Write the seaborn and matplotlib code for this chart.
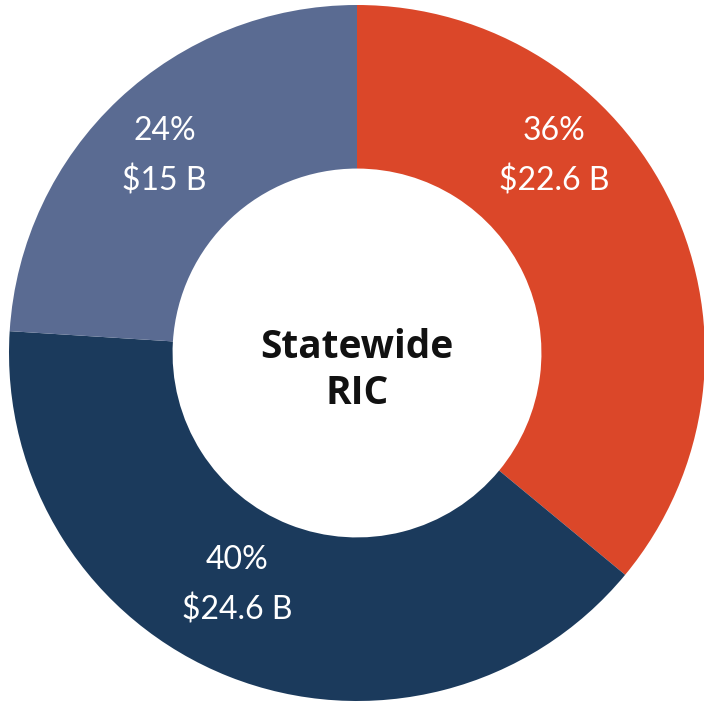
import matplotlib
matplotlib.use("Agg")
import numpy as np
import matplotlib.pyplot as plt
import seaborn as sns

# Statewide RIC split
shares = [36, 40, 24]
amounts = ["$22.6 B", "$24.6 B", "$15 B"]
colors = ["#DB4729", "#1B3A5C", "#5A6B92"]
center_label = "Statewide\nRIC"

# where each label sits (angle in degrees, radius as fraction of outer radius)
label_angles = [45, 242.7, 134.4]
label_radii = [0.80, 0.75, 0.79]

sns.set_theme(style="white")
plt.rcParams['font.family'] = ['Lato', 'DejaVu Sans']

fig = plt.figure(figsize=(7.04, 7.02), dpi=100)
ax = fig.add_axes([0, 0, 1, 1])

ax.pie(shares, colors=colors, startangle=90, counterclock=False,
       wedgeprops=dict(width=0.47, edgecolor="none"))

for share, amount, ang, r in zip(shares, amounts, label_angles, label_radii):
    a = np.deg2rad(ang)
    ax.text(r * np.cos(a), r * np.sin(a), f"{share}%\n{amount}",
            ha="center", va="center", color="white", fontsize=23,
            linespacing=1.78)

ax.text(0, -0.05, center_label, ha="center", va="center", fontsize=28,
        fontweight="bold", color="#111111", family=["Open Sans", "DejaVu Sans"],
        linespacing=1.25)

# outer radius 348 px, centre at (357, 353)
r_px = 348
ax.set_aspect("auto")
ax.set_xlim(-357 / r_px, (704 - 357) / r_px)
ax.set_ylim(-(702 - 353) / r_px, 353 / r_px)
ax.axis("off")

fig.savefig("out.png", dpi=100)
